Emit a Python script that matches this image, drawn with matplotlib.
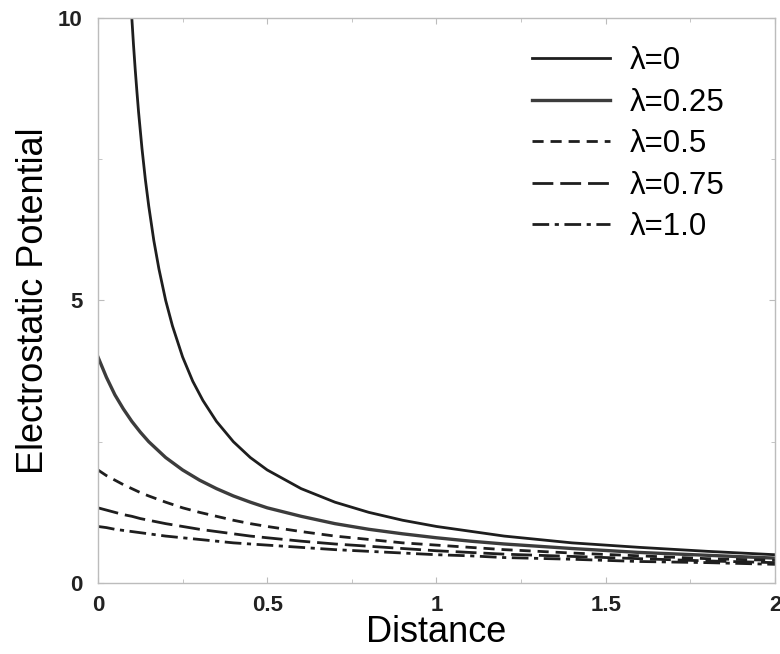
import matplotlib
matplotlib.use("Agg")

import matplotlib.pyplot as plt
from matplotlib.ticker import MultipleLocator

# distances for the lambda > 0 curves
DIST = [0, 0.025, 0.05, 0.075, 0.1, 0.125, 0.15, 0.2, 0.25, 0.3, 0.35, 0.4, 0.45,
        0.5, 0.6, 0.7, 0.8, 0.9, 1.0, 1.1, 1.2, 1.4, 1.6, 1.8, 2.0]
# the lambda = 0 curve only enters the frame at about 0.1
DIST_L0 = [0.1, 0.105, 0.11, 0.115, 0.12, 0.13, 0.14, 0.15, 0.165, 0.18, 0.2, 0.22,
           0.25, 0.28, 0.31, 0.35, 0.4, 0.45, 0.5, 0.6, 0.7, 0.8, 0.9, 1.0, 1.2,
           1.4, 1.6, 1.8, 2.0]

POT_L0 = [10.0, 9.52, 9.09, 8.70, 8.33, 7.69, 7.14, 6.67, 6.06, 5.56, 5.0, 4.55,
          4.0, 3.57, 3.23, 2.86, 2.5, 2.22, 2.0, 1.67, 1.43, 1.25, 1.11, 1.0, 0.83,
          0.71, 0.63, 0.56, 0.5]
POT_L025 = [4.0, 3.64, 3.33, 3.08, 2.86, 2.67, 2.5, 2.22, 2.0, 1.82, 1.67, 1.54,
            1.43, 1.33, 1.18, 1.05, 0.95, 0.87, 0.80, 0.74, 0.69, 0.61, 0.54, 0.49,
            0.44]
POT_L05 = [2.0, 1.90, 1.82, 1.74, 1.67, 1.60, 1.54, 1.43, 1.33, 1.25, 1.18, 1.11,
           1.05, 1.0, 0.91, 0.83, 0.77, 0.71, 0.67, 0.63, 0.59, 0.53, 0.48, 0.43,
           0.40]
POT_L075 = [1.33, 1.29, 1.25, 1.21, 1.18, 1.14, 1.11, 1.05, 1.0, 0.95, 0.91, 0.87,
            0.83, 0.80, 0.74, 0.69, 0.65, 0.61, 0.57, 0.54, 0.51, 0.47, 0.43, 0.39,
            0.36]
POT_L1 = [1.0, 0.98, 0.95, 0.93, 0.91, 0.89, 0.87, 0.83, 0.80, 0.77, 0.74, 0.71,
          0.69, 0.67, 0.63, 0.59, 0.56, 0.53, 0.50, 0.48, 0.45, 0.42, 0.38, 0.36,
          0.33]

LABELS = ["λ=0", "λ=0.25", "λ=0.5", "λ=0.75", "λ=1.0"]

plt.rcParams["font.family"] = ["Liberation Sans", "DejaVu Sans"]

fig = plt.figure(figsize=(7.8, 6.54), dpi=100)
ax = fig.add_axes([0.1256, 0.1086, 0.868, 0.864])

ink = "#1e1e1e"
ax.plot(DIST_L0, POT_L0, color=ink, lw=2.0, label=LABELS[0])
ax.plot(DIST, POT_L025, color="#3c3c3c", lw=2.4, label=LABELS[1])
ax.plot(DIST, POT_L05, color=ink, lw=2.0, dashes=(4, 2.5), label=LABELS[2])
ax.plot(DIST, POT_L075, color=ink, lw=2.0, dashes=(7.5, 2.5), label=LABELS[3])
ax.plot(DIST, POT_L1, color=ink, lw=2.0, dashes=(6, 2, 1.5, 2), label=LABELS[4])

ax.set_xlim(0, 2)
ax.set_ylim(0, 10)
ax.xaxis.set_minor_locator(MultipleLocator(0.25))
ax.yaxis.set_minor_locator(MultipleLocator(2.5))
ax.set_xticks([0, 0.5, 1, 1.5, 2], ["0", "0.5", "1", "1.5", "2"])
ax.set_yticks([0, 5, 10], ["0", "5", "10"])

for side in ax.spines.values():
    side.set_color("#bcbcbc")
    side.set_linewidth(1.0)
ax.tick_params(which="both", direction="in", color="#bcbcbc", top=True, right=True)
ax.tick_params(which="major", length=4)
ax.tick_params(which="minor", length=3)
for t in ax.get_xticklabels() + ax.get_yticklabels():
    t.set_fontweight("bold")
    t.set_fontsize(16)
    t.set_color("#222222")
ax.tick_params(axis="x", pad=9)
ax.tick_params(axis="y", pad=11)

ax.set_xlabel("Distance", fontsize=26, labelpad=-1)
ax.set_ylabel("Electrostatic Potential", fontsize=26, labelpad=5)

ax.legend(loc="upper left", bbox_to_anchor=(0.641, 0.95), frameon=False,
          fontsize=22.5, handlelength=2.5, handletextpad=0.64, labelspacing=0.37,
          borderpad=0, borderaxespad=0)

fig.savefig("out.png", dpi=100)
plt.close(fig)
